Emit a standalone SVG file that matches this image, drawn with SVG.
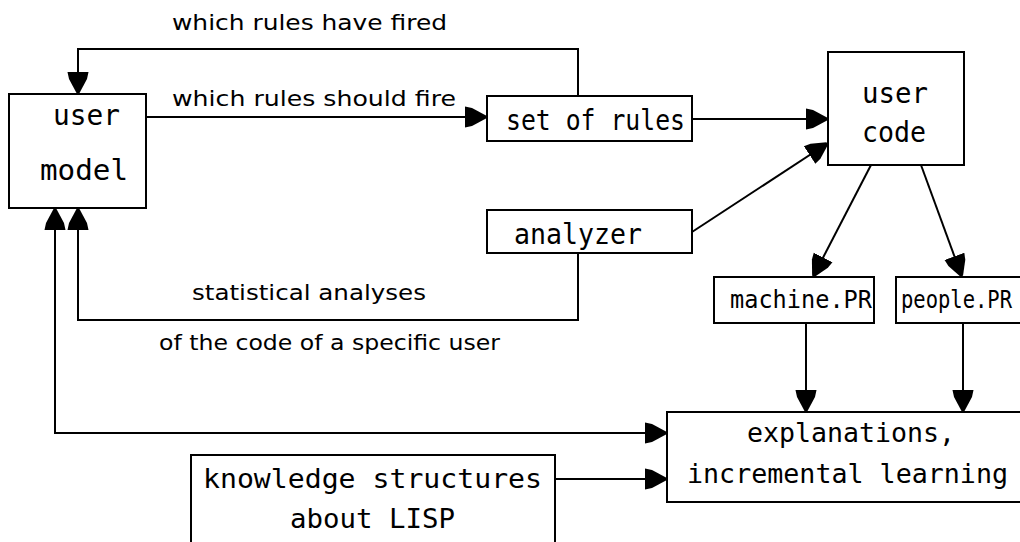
<svg xmlns="http://www.w3.org/2000/svg" width="1020" height="542" viewBox="0 0 1020 542">
<style>
.box{fill:#fff;stroke:#000;stroke-width:2}
.lbl{font-family:"DejaVu Sans Mono","Liberation Mono",monospace;fill:#000}
.big{font-size:28px}
.mid{font-size:26px}
.sm{font-size:24px}
.edge{font-family:"DejaVu Sans","Liberation Sans",sans-serif;font-size:21px;fill:#000}
.con{fill:none;stroke:#000;stroke-width:2}
</style>
<defs>
<marker id="ah" markerUnits="userSpaceOnUse" markerWidth="24" markerHeight="24" viewBox="0 -12 24 24" refX="22" refY="0" orient="auto-start-reverse">
<path d="M0,-10.5 L7,-9 L21,-1.5 L21,1.5 L7,9 L0,10.5 Z" fill="#000"/>
</marker>
</defs>
<rect width="1020" height="542" fill="#fff"/>

<g id="connectors">
<path class="con" d="M578,96 V49 H78 V94" marker-end="url(#ah)"/>
<path class="con" d="M146,117 H487" marker-end="url(#ah)"/>
<path class="con" d="M692,119 H828" marker-end="url(#ah)"/>
<path class="con" d="M692,232 L828,143" marker-end="url(#ah)"/>
<path class="con" d="M871,165 L813,277" marker-end="url(#ah)"/>
<path class="con" d="M921,165 L962,277" marker-end="url(#ah)"/>
<path class="con" d="M578,253 V320 H78 V208" marker-end="url(#ah)"/>
<path class="con" d="M55,208 V433 H667" marker-start="url(#ah)" marker-end="url(#ah)"/>
<path class="con" d="M555,479 H667" marker-end="url(#ah)"/>
<path class="con" d="M806,323 V412" marker-end="url(#ah)"/>
<path class="con" d="M963,323 V412" marker-end="url(#ah)"/>
<text class="edge" x="172" y="30" textLength="275" lengthAdjust="spacingAndGlyphs">which rules have fired</text>
<text class="edge" x="172" y="106" textLength="284" lengthAdjust="spacingAndGlyphs">which rules should fire</text>
<text class="edge" x="192" y="300" textLength="234" lengthAdjust="spacingAndGlyphs">statistical analyses</text>
<text class="edge" x="159" y="350" textLength="341" lengthAdjust="spacingAndGlyphs">of the code of a specific user</text>
</g>

<g id="user-model">
<rect class="box" x="9" y="94" width="137" height="114"/>
<text class="lbl big" x="53" y="125" textLength="67" lengthAdjust="spacingAndGlyphs">user</text>
<text class="lbl big" x="40" y="180" textLength="88" lengthAdjust="spacingAndGlyphs">model</text>
</g>

<g id="set-of-rules">
<rect class="box" x="487" y="96" width="205" height="45"/>
<text class="lbl big" x="506" y="130" textLength="179" lengthAdjust="spacingAndGlyphs">set of rules</text>
</g>

<g id="analyzer">
<rect class="box" x="487" y="210" width="205" height="43"/>
<text class="lbl big" x="514" y="244" textLength="128" lengthAdjust="spacingAndGlyphs">analyzer</text>
</g>

<g id="user-code">
<rect class="box" x="828" y="52" width="136" height="113"/>
<text class="lbl big" x="862" y="103" textLength="66" lengthAdjust="spacingAndGlyphs">user</text>
<text class="lbl big" x="862" y="142" textLength="64" lengthAdjust="spacingAndGlyphs">code</text>
</g>

<g id="machine-pr">
<rect class="box" x="714" y="277" width="160" height="46"/>
<text class="lbl sm" x="730" y="308" textLength="142" lengthAdjust="spacingAndGlyphs">machine.PR</text>
</g>

<g id="people-pr">
<rect class="box" x="896" y="277" width="134" height="46"/>
<text class="lbl sm" x="901" y="308" textLength="111" lengthAdjust="spacingAndGlyphs">people.PR</text>
</g>

<g id="explanations">
<rect class="box" x="667" y="412" width="360" height="90"/>
<text class="lbl mid" x="747" y="442" textLength="208" lengthAdjust="spacingAndGlyphs">explanations,</text>
<text class="lbl mid" x="687" y="483" textLength="321" lengthAdjust="spacingAndGlyphs">incremental learning</text>
</g>

<g id="knowledge">
<rect class="box" x="191" y="455" width="364" height="100"/>
<text class="lbl mid" x="203" y="488" textLength="339" lengthAdjust="spacingAndGlyphs">knowledge structures</text>
<text class="lbl mid" x="290" y="528" textLength="165" lengthAdjust="spacingAndGlyphs">about LISP</text>
</g>
</svg>
